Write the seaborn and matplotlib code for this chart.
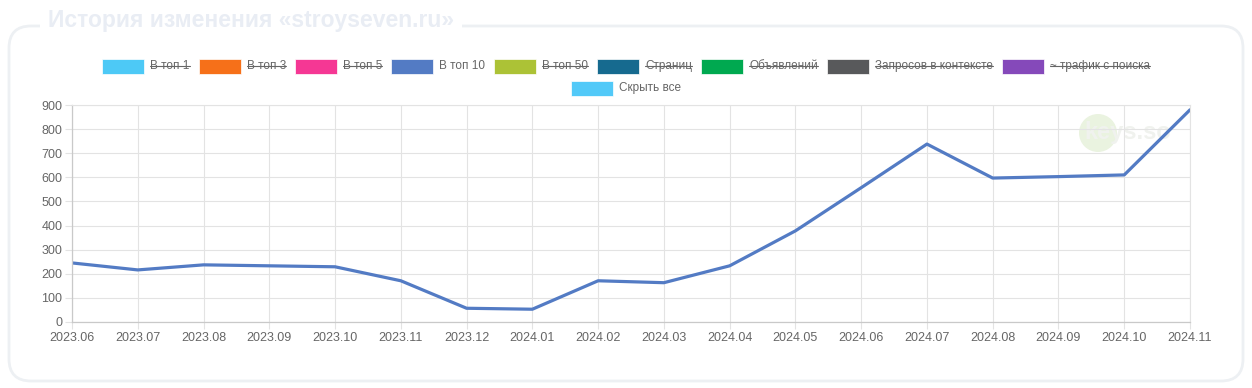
import numpy as np
import pandas as pd
import matplotlib
matplotlib.use("Agg")
import matplotlib.pyplot as plt
import seaborn as sns
from matplotlib.patches import FancyBboxPatch, Rectangle, Circle
from matplotlib.lines import Line2D
from matplotlib.transforms import IdentityTransform

# -------- données --------
months = ["2023.06", "2023.07", "2023.08", "2023.09", "2023.10", "2023.11",
          "2023.12", "2024.01", "2024.02", "2024.03", "2024.04", "2024.05",
          "2024.06", "2024.07", "2024.08", "2024.09", "2024.10", "2024.11"]
top10 = [245, 216, 237, 233, 229, 171, 57, 53, 171, 163, 233, 378,
         557, 738, 597, 603, 610, 880]

legend_labels = ["В топ 1", "В топ 3", "В топ 5", "В топ 10", "В топ 50",
                 "Страниц", "Объявлений", "Запросов в контексте", "~ трафик с поиска"]
legend_colors = ["#4dc9f6", "#f67019", "#f53794", "#537bc4", "#acc236",
                 "#166a8f", "#00a950", "#58595b", "#8549ba"]
legend_hidden = [True, True, True, False, True, True, True, True, True]
hide_all_label = "Скрыть все"
hide_all_color = "#52c9f8"

title = "История изменения «stroyseven.ru»"

df = pd.DataFrame({"month": months, "value": top10})

sns.set_theme(style="white")
plt.rcParams["font.family"] = ["Liberation Sans", "DejaVu Sans"]

W, H = 1252, 388
fig = plt.figure(figsize=(W / 100, H / 100), dpi=100)
fig.patch.set_facecolor("white")

# cadre arrondi
frame = FancyBboxPatch((9, H - 381), 1234, 355, boxstyle="round,pad=0,rounding_size=22",
                       transform=IdentityTransform(), facecolor="none",
                       edgecolor="#edf0f3", linewidth=2, zorder=-2)
fig.patches.append(frame)
fig.text(48 / W, 1 - 21 / H, title, fontsize=16.5, fontweight="bold", color="#e9edf4",
         va="center", ha="left",
         bbox=dict(facecolor="white", edgecolor="none", pad=6), zorder=2)

# filigrane (derrière la courbe)
fig.patches.append(Circle((1098, H - 133), 19, transform=IdentityTransform(),
                          facecolor="#eaf3e0", edgecolor="none", zorder=-1))
fig.text(1128 / W, 1 - 133 / H, "keys.so", fontsize=17, fontweight="bold",
         color="#f0f2ee", ha="center", va="center", zorder=-1)

# -------- axe --------
ax = fig.add_axes([72 / W, (H - 322) / H, (1190 - 72) / W, (322 - 105) / H])
ax.set_facecolor("none")
sns.lineplot(data=df, x="month", y="value", ax=ax, color="#537bc4",
             linewidth=2.3, sort=False)
ax.set_xlim(0, len(months) - 1)
ax.set_ylim(0, 900)
ax.set_yticks(np.arange(0, 901, 100))
ax.set_xlabel("")
ax.set_ylabel("")
ax.grid(True, color="#e3e3e3", linewidth=0.8)
for s in ["top", "right"]:
    ax.spines[s].set_color("#e3e3e3")
    ax.spines[s].set_linewidth(0.8)
for s in ["left", "bottom"]:
    ax.spines[s].set_color("#c9c9c9")
    ax.spines[s].set_linewidth(0.9)
ax.tick_params(axis="both", colors="#e3e3e3", labelcolor="#666666", labelsize=9,
               length=5, width=0.8, pad=2, direction="out", bottom=True, left=True)

# -------- légende --------
fig.canvas.draw()
renderer = fig.canvas.get_renderer()
box_w, box_h, gap_txt, gap_item = 42, 15, 6, 9
leg_fs = 8.5


def text_width(s):
    t = fig.text(0, 0, s, fontsize=leg_fs)
    w = t.get_window_extent(renderer).width
    t.remove()
    return w


def draw_row(labels, colors, hidden, y):
    widths = [box_w + gap_txt + text_width(l) for l in labels]
    total = sum(widths) + gap_item * (len(labels) - 1)
    x = W / 2 - total / 2
    for lab, col, hid, w in zip(labels, colors, hidden, widths):
        fig.patches.append(Rectangle((x, H - y - box_h / 2), box_w, box_h,
                                     transform=IdentityTransform(), facecolor=col,
                                     edgecolor="white", linewidth=0.5))
        tx = x + box_w + gap_txt
        fig.text(tx / W, 1 - y / H, lab, fontsize=leg_fs, color="#666666",
                 ha="left", va="center")
        if hid:
            tw = w - box_w - gap_txt
            fig.lines.append(Line2D([tx, tx + tw], [H - y, H - y],
                                    transform=IdentityTransform(),
                                    color="#666666", linewidth=0.8))
        x += w + gap_item


draw_row(legend_labels, legend_colors, legend_hidden, 66)
draw_row([hide_all_label], [hide_all_color], [False], 88)

fig.savefig("out.png", dpi=100)
